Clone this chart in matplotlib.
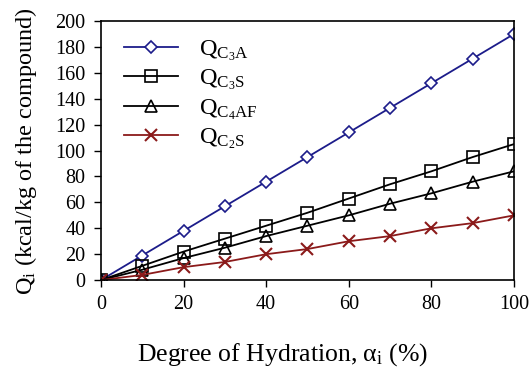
import numpy as np
import matplotlib.pyplot as plt

plt.rcParams['font.family'] = ['Liberation Serif', 'DejaVu Serif']
plt.rcParams['mathtext.fontset'] = 'custom'
plt.rcParams['mathtext.rm'] = 'Liberation Serif'
plt.rcParams['mathtext.it'] = 'Liberation Serif:italic'

# degree of hydration (%)
alpha = [0, 10, 20, 30, 40, 50, 60, 70, 80, 90, 100]

# heat released per compound (kcal/kg)
q_c3a = [0, 19, 38, 57, 76, 95, 114, 133, 152, 171, 190]
q_c3s = [0, 11, 22, 32, 42, 52, 63, 74, 84, 95, 105]
q_c4af = [0, 8, 17, 25, 34, 42, 50, 59, 67, 76, 84]
q_c2s = [0, 4, 10, 14, 20, 24, 30, 34, 40, 44, 50]

labels = [r'Q$_{\mathrm{C_3A}}$', r'Q$_{\mathrm{C_3S}}$',
          r'Q$_{\mathrm{C_4AF}}$', r'Q$_{\mathrm{C_2S}}$']

fig = plt.figure(figsize=(5.31, 3.76), dpi=100)
ax = fig.add_axes([0.190, 0.255, 0.778, 0.689])

ax.plot(alpha, q_c3a, color='#1c1c8a', marker='D', markersize=6.5,
        mfc='white', mew=1.2, lw=1.3, label=labels[0])
ax.plot(alpha, q_c3s, color='black', marker='s', markersize=8,
        mfc='none', mew=1.2, lw=1.3, label=labels[1])
ax.plot(alpha, q_c4af, color='black', marker='^', markersize=8,
        mfc='none', mew=1.2, lw=1.3, label=labels[2])
ax.plot(alpha, q_c2s, color='#8b1a1a', marker='x', markersize=9,
        mew=1.5, lw=1.3, label=labels[3])

ax.set_xlim(0, 100)
ax.set_ylim(0, 200)
ax.set_xticks(np.arange(0, 101, 20))
ax.set_yticks(np.arange(0, 201, 20))
ax.tick_params(direction='out', length=5, width=1, labelsize=14.5, pad=6)
for s in ax.spines.values():
    s.set_linewidth(1.2)

ax.set_xlabel('Degree of Hydration, α$_{\\mathrm{i}}$ (%)', fontsize=18.5)
ax.xaxis.set_label_coords(0.44, -0.235)
ax.set_ylabel(r'Q$_{\mathrm{i}}$ (kcal/kg of the compound)', fontsize=17.5, labelpad=12)

ax.legend(loc='upper left', frameon=False, fontsize=17.5, handlelength=2.2,
          labelspacing=0.2, borderaxespad=0.3, borderpad=0.4,
          handletextpad=0.9, bbox_to_anchor=(0.015, 1.0))

fig.savefig('out.png', dpi=100)
